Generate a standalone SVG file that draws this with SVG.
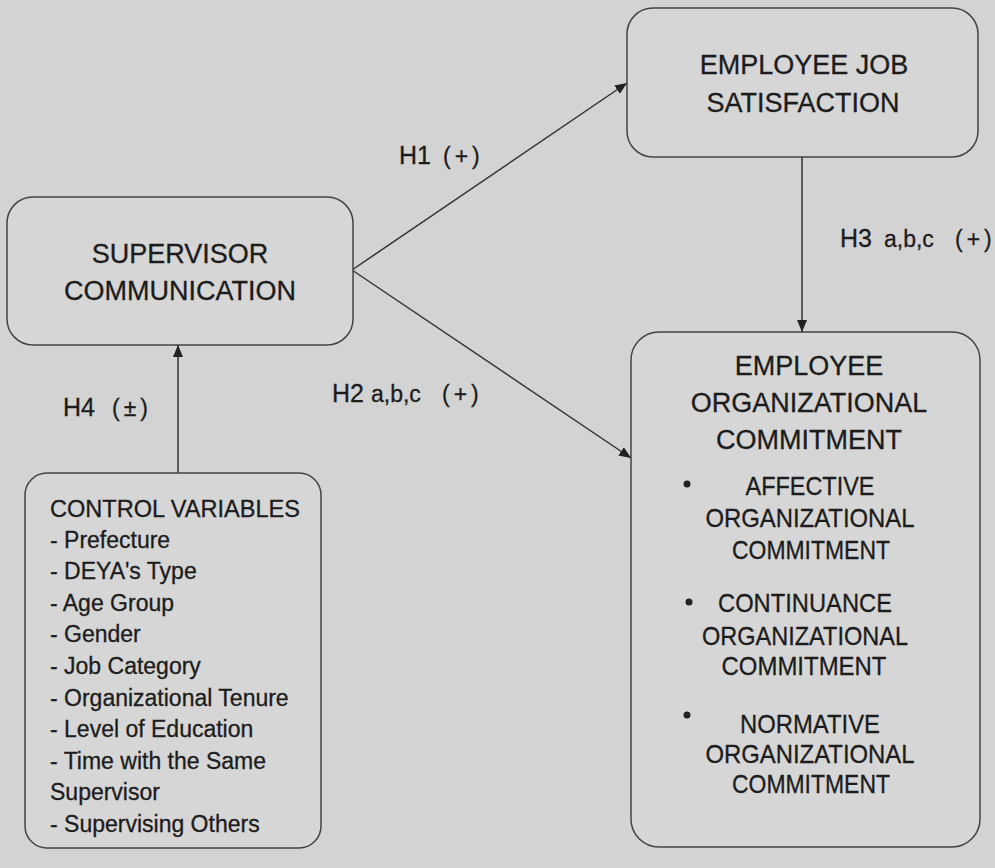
<svg xmlns="http://www.w3.org/2000/svg" width="995" height="868" viewBox="0 0 995 868">
  <defs>
    <style>
      .bg { fill: #d3d3d3; }
      .box { fill: #d6d6d6; stroke: #444; stroke-width: 1.5; }
      .edge { stroke: #333; stroke-width: 1.5; fill: none; marker-end: url(#arrow); }
      text { font-family: "Liberation Sans", Arial, sans-serif; fill: #1c1c1c; stroke: #1c1c1c; stroke-width: 0.3; }
      .title { font-size: 27px; text-anchor: middle; }
      .sub { font-size: 26px; text-anchor: middle; }
      .list { font-size: 23px; }
      .lbl { font-size: 25px; }
      .lbl-s { font-size: 23px; }
      .par { font-size: 23px; letter-spacing: 4px; }
      .dot { fill: #222; }
    </style>
    <marker id="arrow" viewBox="0 0 12 10" refX="12" refY="5" markerWidth="12" markerHeight="10" markerUnits="userSpaceOnUse" orient="auto">
      <path d="M0,0 L12,5 L0,10 z" fill="#222"/>
    </marker>
  </defs>

  <rect class="bg" x="0" y="0" width="995" height="868"/>

  <!-- connectors -->
  <g id="connectors">
    <line class="edge" x1="352" y1="270" x2="627" y2="83"/>
    <line class="edge" x1="352" y1="270" x2="631" y2="458"/>
    <line class="edge" x1="802" y1="157" x2="802" y2="332"/>
    <line class="edge" x1="178" y1="473" x2="178" y2="345"/>
  </g>

  <!-- hypothesis labels -->
  <g id="labels">
    <text class="lbl" x="399" y="164">H1<tspan class="par" x="443">(+)</tspan></text>
    <text class="lbl" x="332" y="402">H2<tspan class="lbl-s" x="371">a,b,c</tspan><tspan class="par" x="442">(+)</tspan></text>
    <text class="lbl" x="840" y="247">H3<tspan class="lbl-s" x="884">a,b,c</tspan><tspan class="par" x="955">(+)</tspan></text>
    <text class="lbl" x="63" y="416">H4<tspan class="par" x="112">(±)</tspan></text>
  </g>

  <g id="supervisor-communication">
    <rect class="box" x="7" y="197" width="346" height="148" rx="26" ry="26"/>
    <text class="title" x="180" y="263">SUPERVISOR</text>
    <text class="title" x="180" y="300">COMMUNICATION</text>
  </g>

  <g id="job-satisfaction">
    <rect class="box" x="627" y="8" width="351" height="149" rx="26" ry="26"/>
    <text class="title" x="804" y="74" font-size="28">EMPLOYEE JOB</text>
    <text class="title" x="803" y="112" font-size="28">SATISFACTION</text>
  </g>

  <g id="organizational-commitment">
    <rect class="box" x="631" y="332" width="349" height="515" rx="28" ry="28"/>
    <text class="title" x="809" y="375">EMPLOYEE</text>
    <text class="title" x="809" y="412">ORGANIZATIONAL</text>
    <text class="title" x="809" y="449">COMMITMENT</text>

    <circle class="dot" cx="687" cy="484" r="3.5"/>
    <text class="sub" x="810" y="495" textLength="129" lengthAdjust="spacingAndGlyphs">AFFECTIVE</text>
    <text class="sub" x="810" y="527" textLength="209" lengthAdjust="spacingAndGlyphs">ORGANIZATIONAL</text>
    <text class="sub" x="811" y="559" textLength="158" lengthAdjust="spacingAndGlyphs">COMMITMENT</text>

    <circle class="dot" cx="689" cy="602" r="3.5"/>
    <text class="sub" x="805" y="612" textLength="174" lengthAdjust="spacingAndGlyphs">CONTINUANCE</text>
    <text class="sub" x="805" y="645" textLength="206" lengthAdjust="spacingAndGlyphs">ORGANIZATIONAL</text>
    <text class="sub" x="804" y="675" textLength="165" lengthAdjust="spacingAndGlyphs">COMMITMENT</text>

    <circle class="dot" cx="687" cy="715" r="3.5"/>
    <text class="sub" x="810" y="733" textLength="140" lengthAdjust="spacingAndGlyphs">NORMATIVE</text>
    <text class="sub" x="810" y="763" textLength="209" lengthAdjust="spacingAndGlyphs">ORGANIZATIONAL</text>
    <text class="sub" x="811" y="793" textLength="158" lengthAdjust="spacingAndGlyphs">COMMITMENT</text>
  </g>

  <g id="control-variables">
    <rect class="box" x="25" y="473" width="296" height="375" rx="22" ry="22"/>
    <text class="list" x="50" y="517" textLength="250" lengthAdjust="spacingAndGlyphs">CONTROL VARIABLES</text>
    <text class="list" x="50" y="548">- Prefecture</text>
    <text class="list" x="50" y="579">- DEYA's Type</text>
    <text class="list" x="50" y="611">- Age Group</text>
    <text class="list" x="50" y="642">- Gender</text>
    <text class="list" x="50" y="674">- Job Category</text>
    <text class="list" x="50" y="706">- Organizational Tenure</text>
    <text class="list" x="50" y="737">- Level of Education</text>
    <text class="list" x="50" y="769">- Time with the Same</text>
    <text class="list" x="50" y="800">Supervisor</text>
    <text class="list" x="50" y="832">- Supervising Others</text>
  </g>
</svg>
